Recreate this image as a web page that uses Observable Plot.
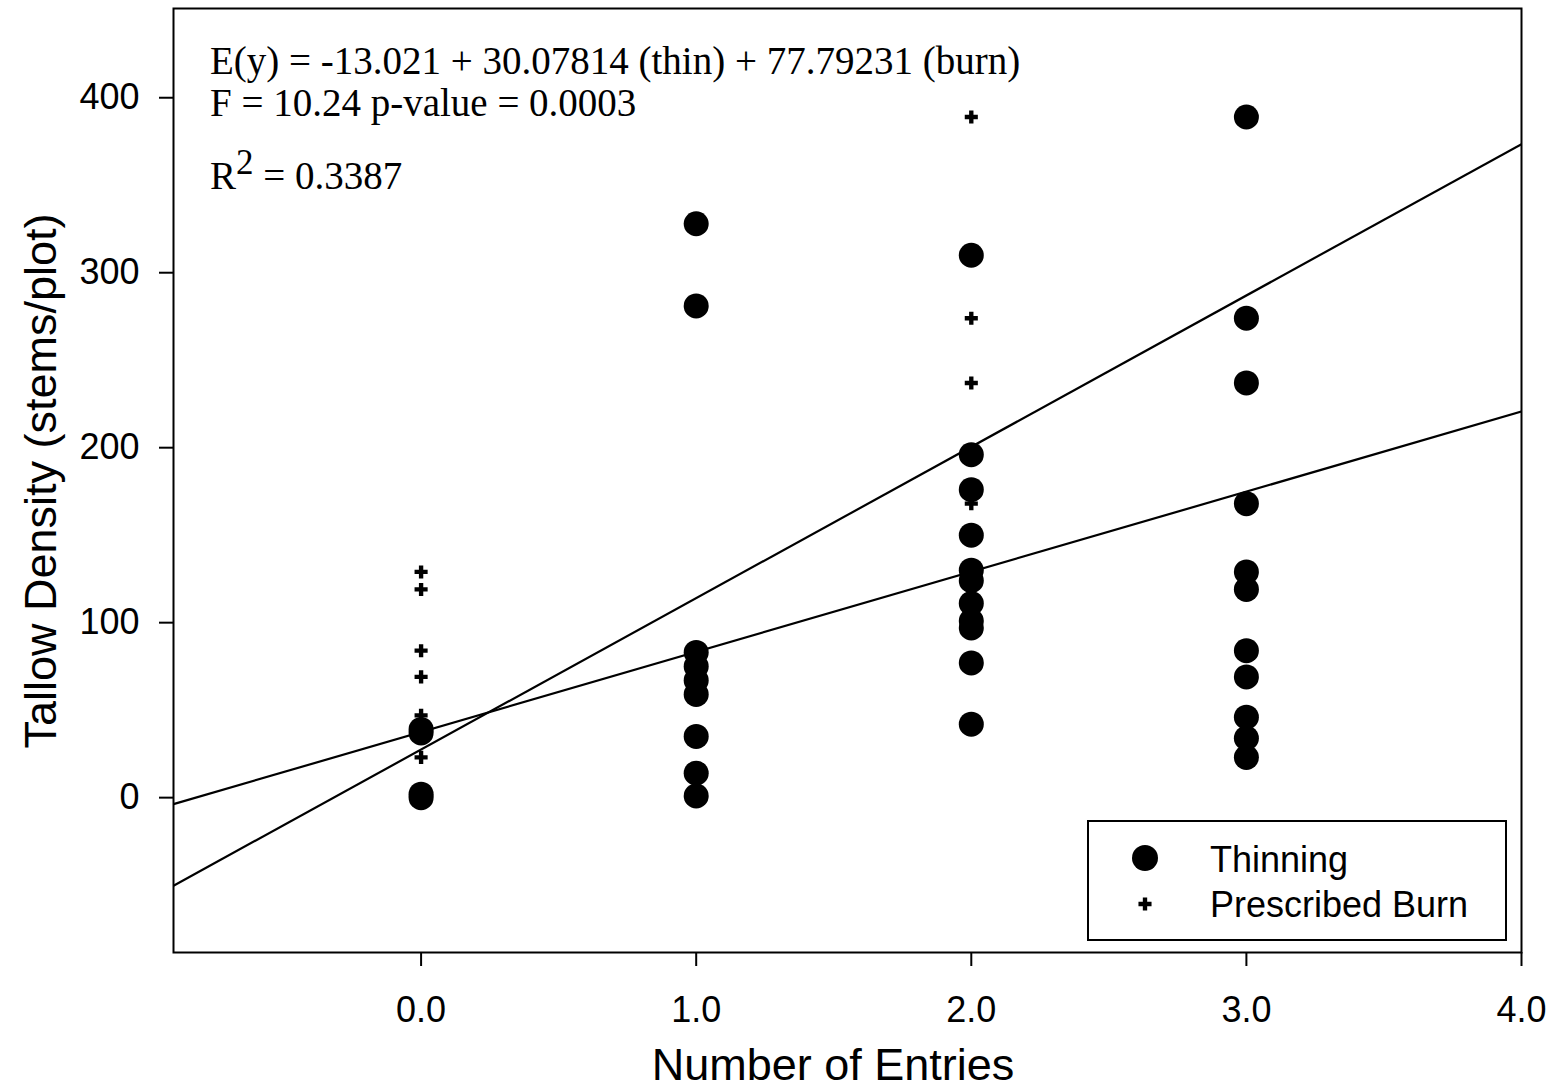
<!DOCTYPE html>
<html>
<head>
<meta charset="utf-8">
<script src="https://cdn.jsdelivr.net/npm/d3@7"></script>
<script src="https://cdn.jsdelivr.net/npm/@observablehq/plot@0.6"></script>
<style>
  html, body { margin: 0; padding: 0; background: #fff; }
  #chart { position: relative; width: 1555px; height: 1092px; }
</style>
</head>
<body>
<div id="chart"></div>
<script>
// ---- Data ----
const entries = [0, 1, 2, 3];
const thinningByEntry = [
  [39, 37, 2, 0],
  [328, 281, 83, 75, 67, 59, 35, 14, 1],
  [310, 196, 176, 150, 130, 124, 111, 101, 97, 77, 42],
  [389, 274, 237, 168, 129, 119, 84, 69, 46, 34, 23]
];
const burnByEntry = [
  [129, 119, 84, 69, 47, 23],
  [],
  [389, 274, 237, 168],
  []
];
const fitIntercepts = [27.5, 37.5];
const fitSlopes = [86.5, 45.8];
const xTicks = [0, 1, 2, 3, 4];
const yTicks = [0, 100, 200, 300, 400];
const xDomain = [-0.9, 4];
const yDomain = [-88.5, 451];
const annotationLines = [
  "E(y) = -13.021 + 30.07814 (thin) + 77.79231 (burn)",
  "F = 10.24 p-value = 0.0003"
];
const r2Value = "0.3387";
const legendLabels = ["Thinning", "Prescribed Burn"];

// ---- Build tables ----
const thinning = entries.flatMap((e, i) => thinningByEntry[i].map(v => ({x: e, y: v})));
const burn = entries.flatMap((e, i) => burnByEntry[i].map(v => ({x: e, y: v})));
const fits = fitIntercepts.map((b, i) => ({
  x1: xDomain[0], x2: xDomain[1],
  y1: b + fitSlopes[i] * xDomain[0], y2: b + fitSlopes[i] * xDomain[1]
}));

const W = 1555, H = 1092;
const mL = 173, mR = 34, mT = 8, mB = 140;
const crossR = 5.5;

const plot = Plot.plot({
  width: W, height: H,
  marginLeft: mL, marginRight: mR, marginTop: mT, marginBottom: mB,
  style: {fontFamily: "'Liberation Sans', Arial, sans-serif", fontSize: "36px", background: "#fff", color: "#000"},
  x: {domain: xDomain, ticks: xTicks, tickFormat: d3.format(".1f")},
  y: {domain: yDomain, ticks: yTicks},
  marks: [
    Plot.axisX({ticks: xTicks, tickFormat: d3.format(".1f"), tickSize: 14, tickPadding: 30, label: null, fontSize: 36, strokeWidth: 2}),
    Plot.axisY({ticks: yTicks, tickSize: 14, tickPadding: 20, label: null, fontSize: 36, strokeWidth: 2}),
    Plot.link(fits, {x1: "x1", y1: "y1", x2: "x2", y2: "y2", stroke: "black", strokeWidth: 2.2, clip: true}),
    Plot.dot(thinning, {x: "x", y: "y", r: 12.5, fill: "black", stroke: "none"}),
    Plot.dot(burn, {x: "x", y: "y", r: crossR, symbol: "cross", fill: "black", stroke: "none"}),
    Plot.frame({stroke: "black", strokeWidth: 2})
  ]
});

document.getElementById("chart").appendChild(plot);
const svg = d3.select(plot);
const sans = "'Liberation Sans', Arial, sans-serif";
const serif = "'Liberation Serif', 'Times New Roman', serif";

// Axis titles
svg.append("text")
  .attr("x", 833).attr("y", 1080)
  .attr("text-anchor", "middle")
  .attr("font-family", sans)
  .attr("font-size", 45)
  .text("Number of Entries");
svg.append("text")
  .attr("transform", "translate(56,481) rotate(-90)")
  .attr("text-anchor", "middle")
  .attr("font-family", sans)
  .attr("font-size", 45)
  .text("Tallow Density (stems/plot)");

// Equation annotation
annotationLines.forEach((t, i) => {
  svg.append("text")
    .attr("x", 210).attr("y", 74 + i * 42)
    .attr("text-anchor", "start")
    .attr("font-family", serif).attr("font-size", 39)
    .text(t);
});
const r2 = svg.append("text")
  .attr("x", 210).attr("y", 189)
  .attr("text-anchor", "start")
  .attr("font-family", serif).attr("font-size", 39);
r2.append("tspan").text("R");
r2.append("tspan").attr("dy", -15).attr("font-size", 35).text("2");
r2.append("tspan").attr("dy", 15).text(" = " + r2Value);

// Legend
const lg = svg.append("g");
lg.append("rect")
  .attr("x", 1088).attr("y", 821).attr("width", 418).attr("height", 119)
  .attr("fill", "white").attr("stroke", "black").attr("stroke-width", 2);
lg.append("circle").attr("cx", 1145).attr("cy", 858).attr("r", 13).attr("fill", "black");
lg.append("path")
  .attr("d", d3.symbol(d3.symbolCross, Math.PI * crossR * crossR)())
  .attr("transform", "translate(1145,904)")
  .attr("fill", "black");
legendLabels.forEach((t, i) => {
  lg.append("text")
    .attr("x", 1210).attr("y", 872 + i * 45)
    .attr("text-anchor", "start")
    .attr("font-family", sans)
    .attr("font-size", 36)
    .text(t);
});
</script>
</body>
</html>
